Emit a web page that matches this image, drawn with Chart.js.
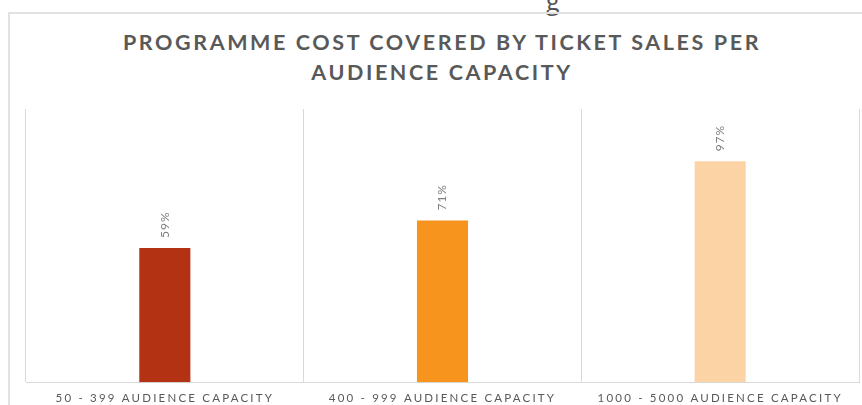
<!DOCTYPE html>
<html>
<head>
<meta charset="utf-8">
<script src="https://cdn.jsdelivr.net/npm/chart.js@4"></script>
<style>
  html, body { margin: 0; padding: 0; background: #fff; width: 862px; height: 405px; overflow: hidden; }
  #wrap { position: relative; width: 862px; height: 405px; overflow: hidden; }
  #frame { position: absolute; left: 8px; top: 12px; width: 900px; height: 450px;
           border-left: 2px solid #e2e2e2; border-top: 2px solid #e2e2e2; box-sizing: border-box; }
  #stray { position: absolute; left: 546px; top: -17px; font-family: "Open Sans", sans-serif;
           font-size: 25px; color: #555; }
  #title { position: absolute; left: 0; top: 27px; width: 884px; text-align: center;
           font-family: Lato, "Open Sans", sans-serif; font-weight: 700; font-size: 21.5px;
           letter-spacing: 2.6px; line-height: 30px; color: #595959; }
  canvas { position: absolute; left: 0; top: 0; }
</style>
</head>
<body>
<div id="wrap">
  <div id="stray">g</div>
  <div id="frame"></div>
  <div id="title">PROGRAMME COST COVERED BY TICKET SALES PER<br>AUDIENCE CAPACITY</div>
  <canvas id="c" width="862" height="416"></canvas>
</div>
<script>
const categories = ['50 - 399 AUDIENCE CAPACITY', '400 - 999 AUDIENCE CAPACITY', '1000 - 5000 AUDIENCE CAPACITY'];
const coveredPct = [59, 71, 97];
const barColors = ['#B23213', '#F7941E', '#FCD3A5'];
const axisMax = 120;

const spacingPlugin = {
  id: 'spacing',
  beforeDraw(chart) { chart.ctx.letterSpacing = '2.2px'; }
};

const valueLabels = {
  id: 'valueLabels',
  afterDatasetsDraw(chart) {
    const ctx = chart.ctx;
    const meta = chart.getDatasetMeta(0);
    ctx.save();
    ctx.letterSpacing = '1px';
    ctx.font = '12px Lato, "Open Sans", sans-serif';
    ctx.fillStyle = '#7f7f7f';
    ctx.textAlign = 'left';
    ctx.textBaseline = 'middle';
    meta.data.forEach((bar, i) => {
      const v = chart.data.datasets[0].data[i];
      ctx.save();
      ctx.translate(bar.x, bar.y - 10);
      ctx.rotate(-Math.PI / 2);
      ctx.fillText(v + '%', 0, 0);
      ctx.restore();
    });
    ctx.restore();
  }
};

new Chart(document.getElementById('c'), {
  type: 'bar',
  data: {
    labels: categories,
    datasets: [{
      data: coveredPct,
      backgroundColor: barColors,
      borderWidth: 0,
      barPercentage: 0.184,
      categoryPercentage: 1
    }]
  },
  options: {
    responsive: false,
    animation: false,
    devicePixelRatio: 1,
    layout: { padding: { left: 26, right: 3, top: 109, bottom: 2 } },
    plugins: { legend: { display: false }, tooltip: { enabled: false }, title: { display: false } },
    scales: {
      x: {
        grid: { display: true, offset: true, drawTicks: false, color: '#d9d9d9', lineWidth: 1 },
        border: { display: true, color: '#d9d9d9', width: 1 },
        ticks: { color: '#595959', font: { family: 'Lato, "Open Sans", sans-serif', size: 11.5 }, padding: 9, maxRotation: 0, autoSkip: false }
      },
      y: {
        display: false,
        min: 0,
        max: axisMax
      }
    }
  },
  plugins: [spacingPlugin, valueLabels]
});
</script>
</body>
</html>
